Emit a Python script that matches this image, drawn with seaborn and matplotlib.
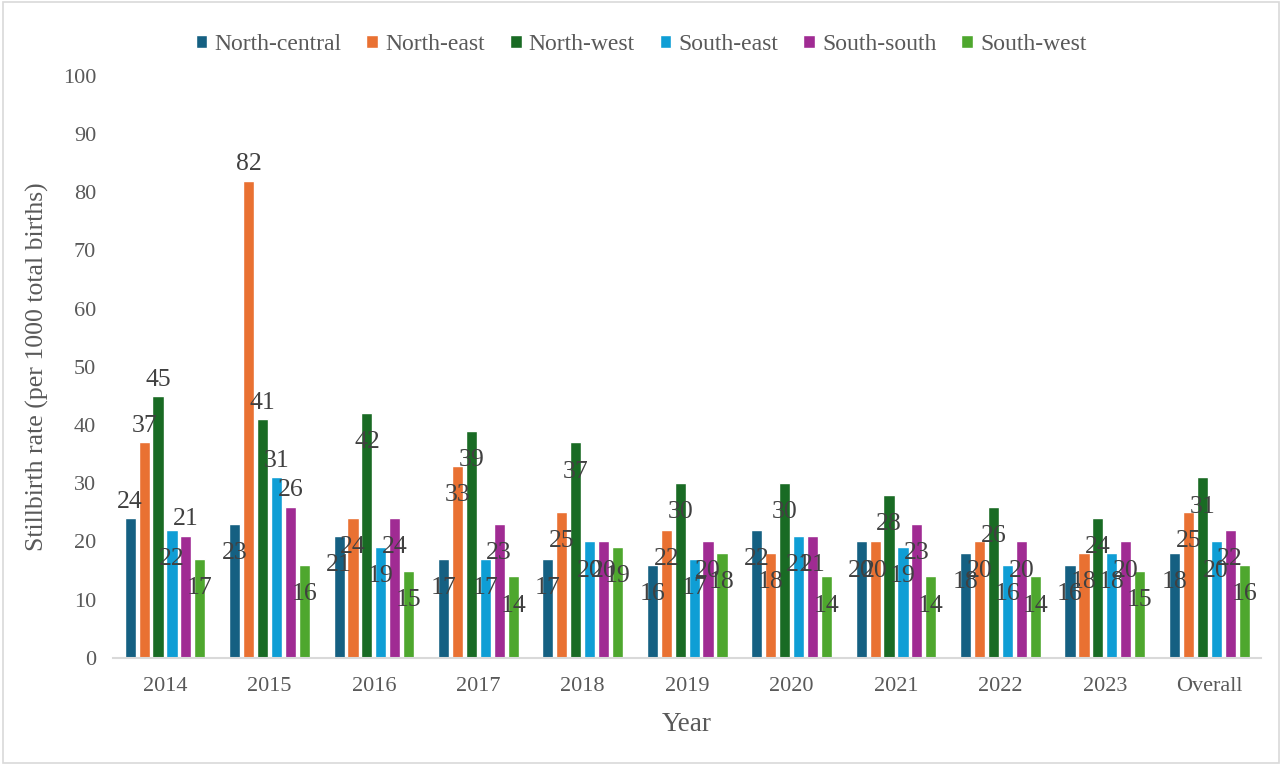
import pandas as pd
import numpy as np
import seaborn as sns
import matplotlib.pyplot as plt
from matplotlib.patches import Rectangle

years = ['2014', '2015', '2016', '2017', '2018', '2019', '2020', '2021', '2022', '2023', 'Overall']
regions = ['North-central', 'North-east', 'North-west', 'South-east', 'South-south', 'South-west']
north_central = [24, 23, 21, 17, 17, 16, 22, 20, 18, 16, 18]
north_east = [37, 82, 24, 33, 25, 22, 18, 20, 20, 18, 25]
north_west = [45, 41, 42, 39, 37, 30, 30, 28, 26, 24, 31]
south_east = [22, 31, 19, 17, 20, 17, 21, 19, 16, 18, 20]
south_south = [21, 26, 24, 23, 20, 20, 21, 23, 20, 20, 22]
south_west = [17, 16, 15, 14, 19, 18, 14, 14, 14, 15, 16]

colors = ['#156082', '#E97132', '#196B24', '#0F9ED5', '#A02B93', '#4EA72E']
# labels that sit above the bar end (the rest sit inside)
outside_labels = [('2014', 'North-central'), ('2014', 'North-east'), ('2014', 'North-west'),
                  ('2014', 'South-south'), ('2015', 'North-east'), ('2015', 'North-west'),
                  ('2015', 'South-east'), ('2015', 'South-south')]

series = [north_central, north_east, north_west, south_east, south_south, south_west]
df = pd.DataFrame({
    'Year': np.tile(years, len(regions)),
    'Region': np.repeat(regions, len(years)),
    'Rate': np.concatenate(series),
})

sns.set_style('white')
plt.rcParams['font.family'] = ['Liberation Serif', 'DejaVu Serif']

fig = plt.figure(figsize=(12.82, 7.65), dpi=100)
ax = fig.add_axes([0.088, 0.14, 0.896, 0.761])

sns.barplot(data=df, x='Year', y='Rate', hue='Region', order=years, hue_order=regions,
            palette=colors, width=0.8, gap=0.2, saturation=1, ax=ax, errorbar=None)

for cont, region in zip(ax.containers, regions):
    for bar, yr in zip(cont, years):
        h = bar.get_height()
        xc = bar.get_x() + bar.get_width() / 2
        if (yr, region) in outside_labels:
            y = h + 2.8
        else:
            y = h - 5
        ax.text(xc, y, f'{h:.0f}', ha='center', va='center', fontsize=18.5, color='#404040')

ax.set_ylim(0, 100)
ax.set_yticks(range(0, 101, 10))
ax.set_xlim(-0.5, len(years) - 0.5)
ax.set_xlabel('Year', fontsize=19.5, color='#595959', labelpad=11)
ax.set_ylabel('Stillbirth rate (per 1000 total births)', fontsize=18.5, color='#595959', labelpad=10)
ax.tick_params(axis='both', length=0, labelsize=16, labelcolor='#595959')
ax.tick_params(axis='x', pad=14)
ax.tick_params(axis='y', pad=12)
for s in ['top', 'right', 'left']:
    ax.spines[s].set_visible(False)
ax.spines['bottom'].set_color('#D9D9D9')
ax.spines['bottom'].set_linewidth(1.5)

ax.legend(loc='center', bbox_to_anchor=(0.5, 0.942), bbox_transform=fig.transFigure,
          ncol=6, frameon=False, fontsize=17, handlelength=0.5, handleheight=0.5,
          handletextpad=0.3, columnspacing=1.05, labelcolor='#595959')

fig.patches.append(Rectangle((0.002, 0.002), 0.996, 0.996, transform=fig.transFigure,
                             fill=False, edgecolor='#D9D9D9', linewidth=1.2))

plt.savefig('out.png', dpi=100)
